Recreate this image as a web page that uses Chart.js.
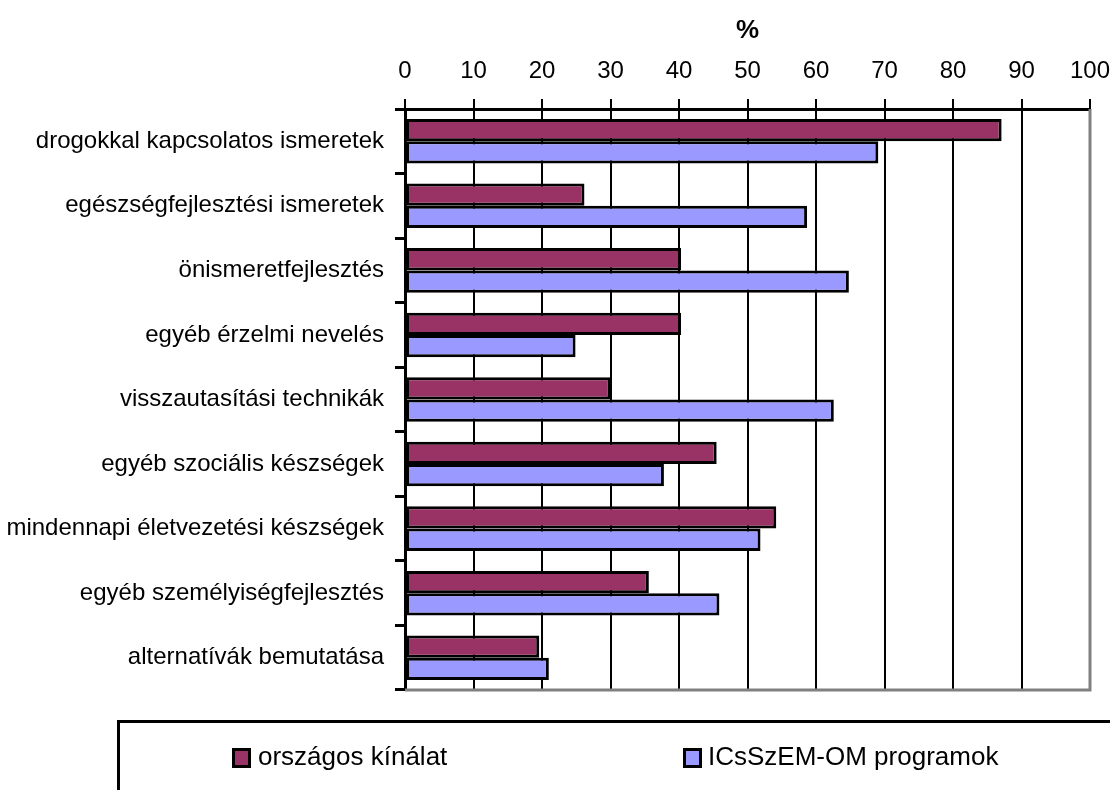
<!DOCTYPE html>
<html>
<head>
<meta charset="utf-8">
<script src="https://cdn.jsdelivr.net/npm/chart.js@4/dist/chart.umd.min.js"></script>
<style>
  html, body { margin: 0; padding: 0; background: #fff; }
  #wrap { width: 1110px; height: 790px; position: relative; }
</style>
</head>
<body>
<div id="wrap"><canvas id="c" width="1110" height="790"></canvas></div>
<script>
const categories = [
  "drogokkal kapcsolatos ismeretek",
  "egészségfejlesztési ismeretek",
  "önismeretfejlesztés",
  "egyéb érzelmi nevelés",
  "visszautasítási technikák",
  "egyéb szociális készségek",
  "mindennapi életvezetési készségek",
  "egyéb személyiségfejlesztés",
  "alternatívák bemutatása"
];
const seriesNames = ["országos kínálat", "ICsSzEM-OM programok"];
const orszagos = [87.1, 26.2, 40.3, 40.3, 30.0, 45.5, 54.2, 35.6, 19.6];
const icsszem = [69.1, 58.7, 64.8, 24.9, 62.6, 37.8, 51.9, 45.9, 21.0];
const xTicks = [0, 10, 20, 30, 40, 50, 60, 70, 80, 90, 100];
const axisTitle = "%";

const FONT = "'Liberation Sans', Arial, Helvetica, sans-serif";

const legendBox = {
  id: 'legendBox',
  afterDraw(chart) {
    const ctx = chart.ctx;
    ctx.save();
    ctx.lineWidth = 3;
    ctx.strokeStyle = '#000';
    ctx.strokeRect(118.5, 721.5, 1100, 120);
    const items = [
      { x: 232, tx: 258, ds: chart.data.datasets[0] },
      { x: 683, tx: 708, ds: chart.data.datasets[1] }
    ];
    ctx.font = "26px " + FONT;
    ctx.textBaseline = 'middle';
    ctx.textAlign = 'left';
    items.forEach(it => {
      ctx.fillStyle = it.ds.backgroundColor;
      ctx.fillRect(it.x, 748, 19, 20);
      ctx.lineWidth = 3;
      ctx.strokeStyle = '#000';
      ctx.strokeRect(it.x + 1.5, 749.5, 16, 17);
      ctx.fillStyle = '#000';
      ctx.fillText(it.ds.label, it.tx, 758);
    });
    ctx.restore();
  }
};

const plotBorder = {
  id: 'plotBorder',
  beforeDatasetsDraw(chart) {
    const a = chart.chartArea;
    const ctx = chart.ctx;
    ctx.save();
    ctx.strokeStyle = '#808080';
    ctx.lineWidth = 3;
    ctx.beginPath();
    ctx.moveTo(a.right, a.top);
    ctx.lineTo(a.right, a.bottom);
    ctx.lineTo(a.left, a.bottom);
    ctx.stroke();
    ctx.restore();
  }
};

new Chart(document.getElementById('c'), {
  type: 'bar',
  data: {
    labels: categories,
    datasets: [
      { label: seriesNames[0], data: orszagos, backgroundColor: '#993366', borderColor: '#000', borderWidth: 3, borderSkipped: false },
      { label: seriesNames[1], data: icsszem, backgroundColor: '#9999FF', borderColor: '#000', borderWidth: 3, borderSkipped: false }
    ]
  },
  options: {
    indexAxis: 'y',
    responsive: false,
    animation: false,
    events: [],
    layout: { padding: { top: 0, right: 20, bottom: 100, left: 0 } },
    datasets: { bar: { categoryPercentage: 0.69, barPercentage: 1.0 } },
    plugins: { legend: { display: false }, tooltip: { enabled: false } },
    scales: {
      x: {
        position: 'top',
        min: 0, max: 100,
        afterBuildTicks(scale) { scale.ticks = xTicks.map(v => ({ value: v })); },
        afterFit(scale) { scale.height = 109; scale.paddingLeft = 0; scale.paddingRight = 0; },
        ticks: { color: '#000', font: { family: FONT, size: 24 }, padding: 13, maxRotation: 0 },
        grid: {
          color: ctx => (ctx.tick && ctx.tick.value === 100) ? '#808080' : '#000',
          lineWidth: 2,
          tickColor: '#000',
          tickWidth: 2,
          tickLength: 10,
          drawTicks: true
        },
        border: { color: '#000', width: 3 },
        title: { display: true, text: axisTitle, color: '#000', font: { family: FONT, size: 26, weight: 'bold' }, padding: { top: 15, bottom: 0 } }
      },
      y: {
        afterFit(scale) { scale.width = 405; scale.paddingTop = 0; scale.paddingBottom = 0; },
        ticks: { color: '#000', font: { family: FONT, size: 24 }, padding: 11, autoSkip: false },
        grid: { drawOnChartArea: false, drawTicks: true, tickLength: 10, tickWidth: 3, tickColor: '#000', offset: true },
        border: { color: '#000', width: 3 }
      }
    }
  },
  plugins: [plotBorder, legendBox]
});
</script>
</body>
</html>
